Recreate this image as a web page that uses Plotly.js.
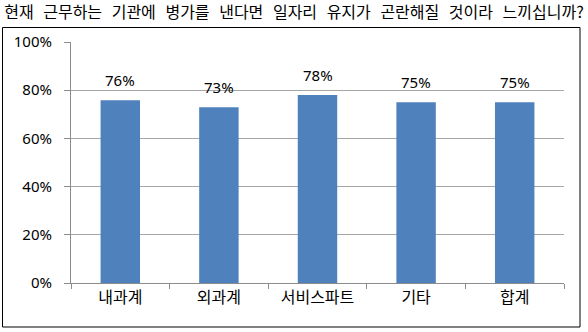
<!DOCTYPE html>
<html>
<head>
<meta charset="utf-8">
<script src="https://cdn.plot.ly/plotly-3.0.1.min.js"></script>
<style>
html,body{margin:0;padding:0;background:#fff;}
#chart{width:588px;height:332px;}
#chart .gtitle{word-spacing:6px;}
</style>
</head>
<body>
<div id="chart"></div>
<script>
const categories = ['내과계', '외과계', '서비스파트', '기타', '합계'];
const values = [75.8, 72.9, 78.0, 75.0, 75.0];
const labels = ['76%', '73%', '78%', '75%', '75%'];
const yTickVals = [0, 20, 40, 60, 80, 100];
const yTickText = ['0%', '20%', '40%', '60%', '80%', '100%'];
const titleText = '현재 근무하는 기관에 병가를 낸다면 일자리 유지가 곤란해질 것이라 느끼십니까?';

const W = 588, H = 332;
const m = {l: 71, r: 24, t: 42, b: 49};
const pw = W - m.l - m.r, ph = H - m.t - m.b;
const px = x => (x - m.l) / pw;
const py = y => (H - m.b - y) / ph;

const font = 'Noto Sans CJK KR, Noto Sans, sans-serif';
const numFont = 'Noto Sans, sans-serif';

const trace = {
  type: 'bar',
  x: categories,
  y: values,
  marker: {color: '#4F81BD'},
  width: 0.4,
  hoverinfo: 'none'
};

const annotations = categories.map((c, i) => ({
  x: c, y: values[i], xref: 'x', yref: 'y',
  text: labels[i], showarrow: false,
  yanchor: 'bottom', yshift: 8,
  font: {family: numFont, size: 15, color: '#000'}
}));

const layout = {
  width: W, height: H,
  margin: m,
  paper_bgcolor: '#fff', plot_bgcolor: '#fff',
  showlegend: false,
  title: {
    text: titleText,
    x: 0.5, xanchor: 'center', xref: 'container',
    y: 1 - 12.5 / H, yanchor: 'middle', yref: 'container',
    font: {family: font, size: 16, color: '#000'}
  },
  xaxis: {
    type: 'category',
    showgrid: false,
    showline: true, linecolor: '#8c8c8c', linewidth: 1,
    ticks: 'outside', ticklen: 5, tickcolor: '#8c8c8c',
    tickson: 'boundaries',
    tickfont: {family: font, size: 16, color: '#000'},
    fixedrange: true
  },
  yaxis: {
    range: [0, 100],
    tickvals: yTickVals, ticktext: yTickText,
    showgrid: true, gridcolor: '#a6a6a6', gridwidth: 1,
    zeroline: false,
    showline: true, linecolor: '#8c8c8c', linewidth: 1,
    ticks: 'outside', ticklen: 6, tickcolor: '#8c8c8c',
    ticklabelstandoff: 9,
    tickfont: {family: numFont, size: 15, color: '#000'},
    fixedrange: true
  },
  annotations: annotations,
  shapes: [{
    type: 'rect', xref: 'paper', yref: 'paper',
    x0: px(2.5), x1: px(580), y0: py(327), y1: py(27.5),
    line: {color: '#000', width: 1}, fillcolor: 'rgba(0,0,0,0)', layer: 'below'
  }]
};

Plotly.newPlot('chart', [trace], layout, {displayModeBar: false, staticPlot: true});
</script>
</body>
</html>
